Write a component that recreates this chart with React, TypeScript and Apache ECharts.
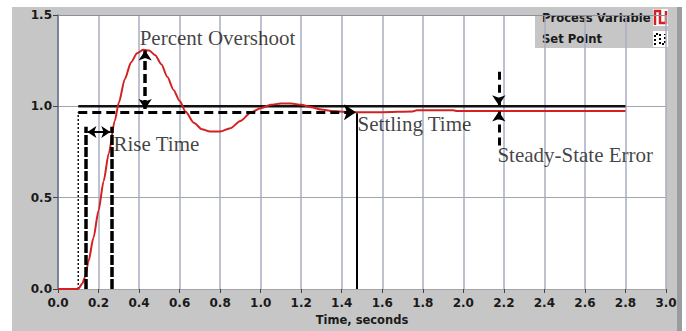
import React, { useEffect, useRef } from "react";
import * as echarts from "echarts";

// Process variable (red)
const PV_TIME = [0, 0.1, 0.12, 0.135, 0.15, 0.175, 0.2, 0.225, 0.25, 0.28, 0.3, 0.33, 0.36, 0.39, 0.42, 0.45, 0.48, 0.51, 0.54, 0.57, 0.6, 0.63, 0.67, 0.71, 0.75, 0.8, 0.85, 0.9, 0.95, 1.0, 1.05, 1.1, 1.15, 1.2, 1.25, 1.3, 1.35, 1.4, 1.47, 1.6, 1.75, 1.77, 1.95, 1.97, 2.8];
const PV_VALUE = [0, 0, 0.03, 0.07, 0.15, 0.28, 0.43, 0.59, 0.74, 0.92, 1.02, 1.15, 1.24, 1.29, 1.31, 1.305, 1.28, 1.23, 1.16, 1.09, 1.03, 0.97, 0.91, 0.875, 0.862, 0.862, 0.88, 0.92, 0.965, 0.99, 1.008, 1.016, 1.016, 1.008, 0.995, 0.982, 0.975, 0.97, 0.968, 0.968, 0.972, 0.978, 0.978, 0.974, 0.974];

// Set point (black)
const SP_TIME = [0.1, 2.8];
const SP_VALUE = [1.0, 1.0];
const SP_STEP_TIME = [0.1, 0.1];
const SP_STEP_VALUE = [0, 0.968];

// Annotation segments [x1, y1, x2, y2]
const SETTLE_BAND = [0.1, 0.968, 1.47, 0.968];
const OVERSHOOT = [0.43, 0.985, 0.43, 1.305];
const RISE_LEFT = [0.138, 0, 0.138, 0.888];
const RISE_RIGHT = [0.265, 0, 0.265, 0.888];
const RISE_ARROW = [0.145, 0.86, 0.258, 0.86];
const SETTLE_LINE = [1.474, 0, 1.474, 0.962];
const SSE_UPPER = [2.175, 1.19, 2.175, 1.006];
const SSE_LOWER = [2.175, 0.785, 2.175, 0.972];

// Annotation texts [x, y]
const TEXT_LABELS = ["Percent Overshoot", "Rise Time", "Settling Time", "Steady-State Error"];
const TEXT_X = [0.403, 0.274, 1.478, 2.168];
const TEXT_Y = [1.375, 0.796, 0.904, 0.736];

// Axis ticks
const X_MIN = 0, X_MAX = 3, X_STEP = 0.2;
const Y_MIN = 0, Y_MAX = 1.5, Y_STEP = 0.5;

const LEGEND_LABELS = ["Process Variable", "Set Point"];

const seg = (s: number[]) => [[s[0], s[1]], [s[2], s[3]]];

export default function App() {
  const ref = useRef<HTMLDivElement>(null);
  useEffect(() => {
    if (!ref.current) return;
    const chart = echarts.init(ref.current, undefined, { renderer: "svg" });
    const axisFont = { fontFamily: "DejaVu Sans", fontSize: 12, fontWeight: "bold" as const, color: "#1a1a1a" };
    const serif = { fontFamily: "Liberation Serif", fontSize: 21, color: "#111" };
    const dashedLines = (name: string, s: number[], symbol: string[], width: number, dash: number[] | string, size = 10) => ({
      type: "lines",
      name,
      coordinateSystem: "cartesian2d",
      xAxisIndex: 0,
      yAxisIndex: 0,
      symbol,
      symbolSize: size,
      silent: true,
      z: 5,
      lineStyle: { color: "#000", width, type: dash, opacity: 1 },
      itemStyle: { color: "#000" },
      data: [{ coords: seg(s) }],
    });
    chart.setOption({
      animation: false,
      backgroundColor: "#c6c6c6",
      grid: { left: 58, right: 20, top: 15, bottom: 39, show: true, backgroundColor: "#ffffff", borderWidth: 0 },
      xAxis: [
        {
          type: "value", min: X_MIN, max: X_MAX, interval: X_STEP,
          name: "Time, seconds", nameLocation: "middle", nameGap: 25,
          nameTextStyle: { fontFamily: "DejaVu Sans", fontSize: 11.5, fontWeight: "bold", color: "#1a1a1a" },
          axisLine: { show: false },
          axisTick: { show: true, length: 4, lineStyle: { color: "#444" } },
          axisLabel: { ...axisFont, margin: 8, formatter: (v: number) => v.toFixed(1) },
          splitLine: { show: true, lineStyle: { color: "#a9acc0", width: 1.5 } },
        },
        {
          type: "value", min: X_MIN, max: X_MAX, position: "top",
          axisLine: { show: true, lineStyle: { color: "#8a8f9c", width: 1 } },
          axisTick: { show: false }, axisLabel: { show: false }, splitLine: { show: false },
        },
      ],
      yAxis: {
        type: "value", min: Y_MIN, max: Y_MAX, interval: Y_STEP,
        axisLine: { show: true, lineStyle: { color: "#66708c", width: 1.5 } },
        axisTick: { show: true, length: 5, lineStyle: { color: "#444" } },
        axisLabel: { ...axisFont, margin: 6, formatter: (v: number) => v.toFixed(1) },
        splitLine: { show: true, lineStyle: { color: "#a4a4ac", width: 1 } },
      },
      graphic: [
        { type: "rect", shape: { x: 0, y: 0, width: 12, height: 331 }, style: { fill: "#fff" }, z: 100 },
        { type: "rect", shape: { x: 0, y: 0, width: 686, height: 7 }, style: { fill: "#fff" }, z: 100 },
        { type: "rect", shape: { x: 677, y: 7, width: 5, height: 324 }, style: { fill: "#9c9c9c" }, z: 100 },
        { type: "rect", shape: { x: 682, y: 0, width: 4, height: 331 }, style: { fill: "#fff" }, z: 100 },
        {
          type: "group", z: 100,
          children: [
            { type: "rect", shape: { x: 535, y: 7, width: 142, height: 41 }, style: { fill: "#c6c6c6" } },
            { type: "text", x: 542, y: 18, style: { text: LEGEND_LABELS[0], fontFamily: "DejaVu Sans", fontSize: 11.6, fontWeight: "bold", fill: "#1a1a1a", verticalAlign: "middle" } },
            { type: "text", x: 542, y: 39, style: { text: LEGEND_LABELS[1], fontFamily: "DejaVu Sans", fontSize: 11.6, fontWeight: "bold", fill: "#1a1a1a", verticalAlign: "middle" } },
            { type: "rect", shape: { x: 653, y: 9, width: 15, height: 17 }, style: { fill: "#fff" } },
            { type: "polyline", shape: { points: [[655, 25], [655, 11], [660, 11], [660, 23], [666, 23], [666, 11]] }, style: { stroke: "#d42020", lineWidth: 2.5, fill: "none" } },
            { type: "rect", shape: { x: 653, y: 31, width: 15, height: 16 }, style: { fill: "#fff" } },
            { type: "polyline", shape: { points: [[655, 45], [655, 34], [660, 34], [660, 44], [665, 44], [665, 34]] }, style: { stroke: "#000", lineWidth: 2, fill: "none", lineDash: [2, 2] } },
          ],
        },
      ],
      series: [
        {
          type: "line", name: "Set Point", data: SP_TIME.map((t, i) => [t, SP_VALUE[i]]),
          showSymbol: false, lineStyle: { color: "#111", width: 2.5 }, z: 3,
        },
        {
          type: "line", name: "Set Point step", data: SP_STEP_TIME.map((t, i) => [t, SP_STEP_VALUE[i]]),
          showSymbol: false, lineStyle: { color: "#111", width: 1.5, type: [2, 2] }, z: 3,
        },
        {
          type: "line", name: "Process Variable", data: PV_TIME.map((t, i) => [t, PV_VALUE[i]]),
          showSymbol: false, smooth: 0.25, smoothMonotone: "x",
          lineStyle: { color: "#d42020", width: 2 }, z: 4,
        },
        dashedLines("settle band", SETTLE_BAND, ["none", "arrow"], 3, [9, 5], 12),
        dashedLines("overshoot", OVERSHOOT, ["arrow", "arrow"], 3.5, [9, 4], 10),
        dashedLines("rise left", RISE_LEFT, ["none", "none"], 3.5, [10, 2]),
        dashedLines("rise right", RISE_RIGHT, ["none", "none"], 3.5, [10, 2]),
        dashedLines("rise arrow", RISE_ARROW, ["arrow", "arrow"], 2, "solid", 9),
        dashedLines("settle line", SETTLE_LINE, ["none", "none"], 2, "solid"),
        dashedLines("sse upper", SSE_UPPER, ["none", "arrow"], 3, [8, 5], 10),
        dashedLines("sse lower", SSE_LOWER, ["none", "arrow"], 3, [8, 5], 10),
        {
          type: "scatter", name: "texts", symbolSize: 0, silent: true, z: 6,
          data: TEXT_LABELS.map((s, i) => ({ name: s, value: [TEXT_X[i], TEXT_Y[i]] })),
          label: { show: true, position: "right", distance: 0, formatter: "{b}", ...serif },
        },
      ],
    });
    return () => chart.dispose();
  }, []);
  return <div ref={ref} style={{ position: "fixed", left: 0, top: 0, width: 686, height: 331 }} />;
}
